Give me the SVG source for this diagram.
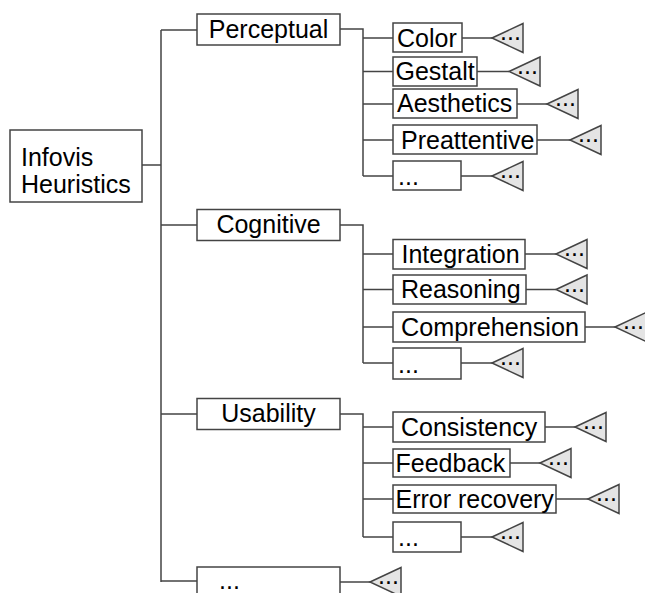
<svg xmlns="http://www.w3.org/2000/svg" width="645" height="593" viewBox="0 0 645 593">
<style>
.box{fill:#fff;stroke:#444;stroke-width:1.5}
.tri{fill:#e4e4e4;stroke:#444;stroke-width:1.5}
.ln{fill:none;stroke:#444;stroke-width:1.5}
text{font-family:"Liberation Sans",Arial,sans-serif;font-size:25px;fill:#000}
.mid{text-anchor:middle}
</style>
<defs>
<g id="leaf"><polygon class="tri" points="0,0 31,-14.5 31,14.5"/><text x="8" y="2">...</text></g>
</defs>
<rect width="645" height="593" fill="#fff"/>
<g id="connectors">
<path class="ln" d="M142,165H161M161,30V582M161,30H197M161,225H197M161,414H197M161,581H197"/>
<path class="ln" d="M340,29H363V176M363,38H393M363,71.5H393M363,104H393M363,140H393M363,176H393"/>
<path class="ln" d="M340,225H363V363M363,254H393M363,289.5H393M363,327H393M363,363H393"/>
<path class="ln" d="M340,414H363V537M363,427H393M363,463H393M363,499H393M363,537H393"/>
<path class="ln" d="M340,582H370"/>
<path class="ln" d="M462,38H492M477,71.5H509M517,104H547M537,140H570M461,176H492"/>
<path class="ln" d="M525,254H556M526,289.5H556M585,327H615M461,363H492"/>
<path class="ln" d="M545,427H575M510,463H540M556,499H588M461,537H492"/>
</g>
<g id="root"><rect class="box" x="10" y="130" width="132" height="72"/><text x="21" y="166">Infovis</text><text x="21" y="193">Heuristics</text></g>
<g id="perceptual"><rect class="box" x="197" y="14" width="143" height="31"/><text class="mid" x="268.5" y="37.5">Perceptual</text></g>
<g id="cognitive"><rect class="box" x="197" y="209.5" width="143" height="31"/><text class="mid" x="268.5" y="233">Cognitive</text></g>
<g id="usability"><rect class="box" x="197" y="398.5" width="143" height="31"/><text class="mid" x="268.5" y="422">Usability</text></g>
<g id="more1"><rect class="box" x="197" y="567" width="143" height="40"/><text x="219" y="589">...</text></g>
<g id="color"><rect class="box" x="393" y="23" width="69" height="29"/><text x="397" y="46.5">Color</text></g>
<g id="gestalt"><rect class="box" x="393" y="57" width="84" height="29"/><text x="395.5" y="80">Gestalt</text></g>
<g id="aesthetics"><rect class="box" x="393" y="89" width="124" height="29"/><text x="397" y="112">Aesthetics</text></g>
<g id="preattentive"><rect class="box" x="393" y="125" width="144" height="29"/><text x="401" y="148.5">Preattentive</text></g>
<g id="pmore"><rect class="box" x="393" y="161" width="68" height="29"/><text x="398" y="185">...</text></g>
<g id="integration"><rect class="box" x="393" y="239.5" width="132" height="29.5"/><text x="401.5" y="262.5">Integration</text></g>
<g id="reasoning"><rect class="box" x="393" y="275" width="133" height="29"/><text x="401" y="298">Reasoning</text></g>
<g id="comprehension"><rect class="box" x="393" y="312" width="192" height="30"/><text x="401" y="335.5" textLength="178" lengthAdjust="spacingAndGlyphs">Comprehension</text></g>
<g id="cmore"><rect class="box" x="393" y="348" width="68" height="31"/><text x="398" y="373">...</text></g>
<g id="consistency"><rect class="box" x="393" y="412" width="152" height="30"/><text x="401" y="435.5">Consistency</text></g>
<g id="feedback"><rect class="box" x="393" y="449" width="117" height="28"/><text x="395.5" y="471.5">Feedback</text></g>
<g id="errorrecovery"><rect class="box" x="393" y="485" width="163" height="28"/><text x="395.5" y="507.5">Error recovery</text></g>
<g id="umore"><rect class="box" x="393" y="522" width="68" height="30"/><text x="398" y="546">...</text></g>
<g id="leaves">
<use href="#leaf" x="492" y="38"/>
<use href="#leaf" x="509" y="71.5"/>
<use href="#leaf" x="547" y="104"/>
<use href="#leaf" x="570" y="140"/>
<use href="#leaf" x="492" y="176"/>
<use href="#leaf" x="556" y="254"/>
<use href="#leaf" x="556" y="289.5"/>
<use href="#leaf" x="615" y="327"/>
<use href="#leaf" x="492" y="363"/>
<use href="#leaf" x="575" y="427"/>
<use href="#leaf" x="540" y="463"/>
<use href="#leaf" x="588" y="499"/>
<use href="#leaf" x="492" y="537"/>
<use href="#leaf" x="370" y="582"/>
</g>
</svg>
